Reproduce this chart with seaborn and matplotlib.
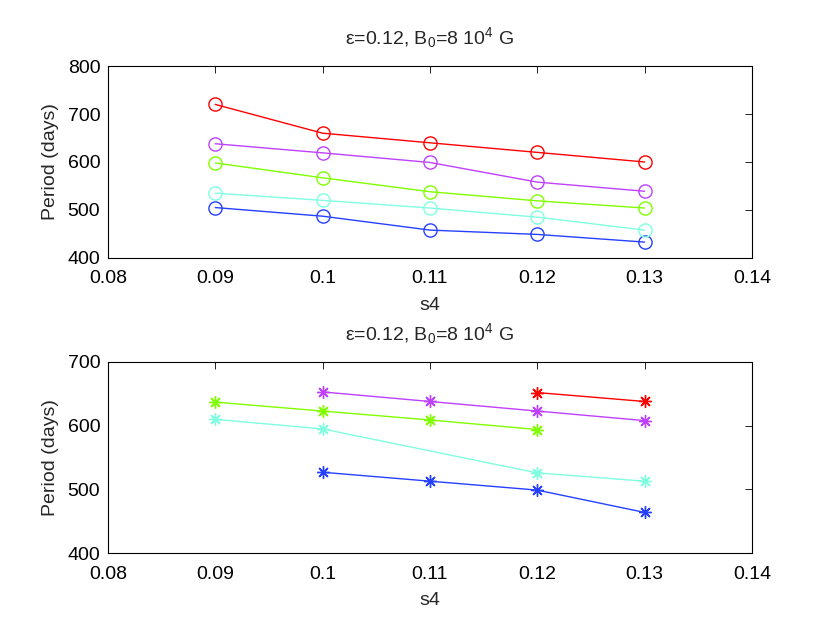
import numpy as np
import pandas as pd
import matplotlib
matplotlib.use("Agg")
import matplotlib.pyplot as plt
import seaborn as sns

sns.set_theme(style="white")
plt.rcParams['font.family'] = ['Liberation Sans', 'DejaVu Sans']
plt.rcParams['mathtext.fontset'] = 'custom'
plt.rcParams['mathtext.rm'] = 'Liberation Sans'
plt.rcParams['mathtext.it'] = 'Liberation Sans'

s4 = [0.09, 0.10, 0.11, 0.12, 0.13]

# Top panel (circles)
top_blue = [505, 487, 458, 449, 433]
top_cyan = [535, 520, 504, 485, 458]
top_green = [598, 567, 538, 519, 504]
top_purple = [638, 619, 599, 558, 539]
top_red = [720, 660, 640, 620, 600]

# Bottom panel (asterisks)
bot_blue_x = [0.10, 0.11, 0.12, 0.13]
bot_blue = [527, 513, 499, 464]
bot_cyan_x = [0.09, 0.10, 0.12, 0.13]
bot_cyan = [610, 595, 526, 513]
bot_green_x = [0.09, 0.10, 0.11, 0.12]
bot_green = [637, 623, 609, 594]
bot_purple_x = [0.10, 0.11, 0.12, 0.13]
bot_purple = [653, 638, 623, 608]
bot_red_x = [0.12, 0.13]
bot_red = [652, 638]

xticks = [0.08, 0.09, 0.10, 0.11, 0.12, 0.13, 0.14]
xticklabels = ['0.08', '0.09', '0.1', '0.11', '0.12', '0.13', '0.14']

c_blue = (0.15, 0.25, 1.0)
c_cyan = (0.5, 1.0, 0.88)
c_green = (0.5, 1.0, 0.0)
c_purple = (0.75, 0.25, 1.0)
c_red = (1.0, 0.0, 0.0)

fig = plt.figure(figsize=(8.3, 6.23), dpi=100)
ax1 = fig.add_axes([0.130, 0.586, 0.776, 0.308])
ax2 = fig.add_axes([0.130, 0.112, 0.776, 0.307])

title = r'ε=0.12, B$_0$=8 10$^4$ G'

top_series = [(s4, top_blue, c_blue), (s4, top_cyan, c_cyan), (s4, top_green, c_green),
              (s4, top_purple, c_purple), (s4, top_red, c_red)]
for xs, ys, c in top_series:
    sns.lineplot(x=xs, y=ys, ax=ax1, color=c, marker='o', markersize=9.5,
                 markerfacecolor='none', markeredgecolor=c, markeredgewidth=1.0,
                 linewidth=1.0, sort=False, estimator=None)

bot_series = [(bot_blue_x, bot_blue, c_blue), (bot_cyan_x, bot_cyan, c_cyan),
              (bot_green_x, bot_green, c_green), (bot_purple_x, bot_purple, c_purple),
              (bot_red_x, bot_red, c_red)]
for xs, ys, c in bot_series:
    sns.lineplot(x=xs, y=ys, ax=ax2, color=c, marker=(8, 2, 0), markersize=9,
                 markeredgecolor=c, markeredgewidth=1.0,
                 linewidth=1.0, sort=False, estimator=None)

for ax, ylim, yt in [(ax1, (400, 800), [400, 500, 600, 700, 800]),
                     (ax2, (400, 700), [400, 500, 600, 700])]:
    ax.set_xlim(0.08, 0.14)
    ax.set_ylim(*ylim)
    ax.set_xticks(xticks)
    ax.set_xticklabels(xticklabels)
    ax.set_yticks(yt)
    ax.set_xlabel('s4', fontsize=14, labelpad=7)
    ax.set_ylabel('Period (days)', fontsize=14, labelpad=6)
    ax.set_title(title, fontsize=14, pad=16)
    ax.tick_params(direction='in', length=5, width=0.6, top=True, right=True,
                   labelsize=14, colors='black')
    ax.tick_params(axis='x', pad=9)
    ax.tick_params(axis='y', pad=5.5)
    for sp in ax.spines.values():
        sp.set_color('black')
        sp.set_linewidth(0.8)
    ax.grid(False)
    ax.set_facecolor('white')

fig.savefig('out.png', dpi=100, facecolor='white')
